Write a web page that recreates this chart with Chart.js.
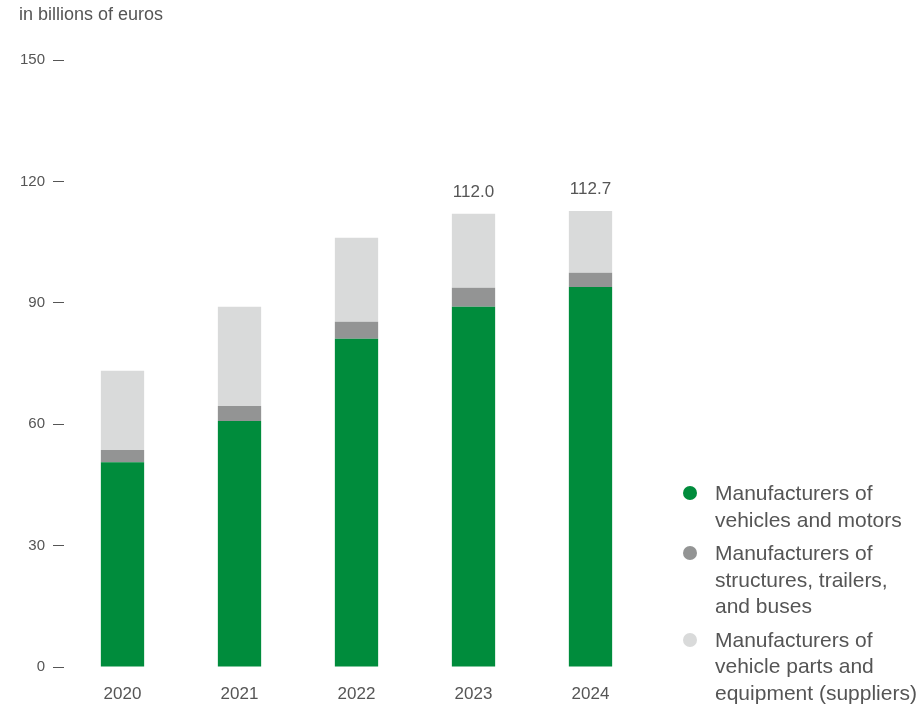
<!DOCTYPE html>
<html>
<head>
<meta charset="utf-8">
<script src="https://cdn.jsdelivr.net/npm/chart.js@4"></script>
<style>
  body { margin: 0; background: #fff; font-family: "Liberation Sans", Arial, sans-serif; color: #555; }
  #wrap { position: relative; width: 923px; height: 708px; }
  #title { position: absolute; left: 19px; top: 4px; font-size: 18px; line-height: 20px; }
  #legend { position: absolute; left: 683px; top: 480px; font-size: 21px; line-height: 26.5px; }
  .item { display: flex; align-items: flex-start; margin-bottom: 7px; }
  .dot { width: 14px; height: 14px; border-radius: 50%; margin-top: 6px; margin-right: 18px; flex: none; }
</style>
</head>
<body>
<div id="wrap">
  <canvas id="myChart" width="923" height="708"></canvas>
  <div id="title">in billions of euros</div>
  <div id="legend"></div>
</div>
<script>
const years = ["2020", "2021", "2022", "2023", "2024"];
const vehicles = [50.6, 60.8, 81.1, 89.0, 93.9];
const structures = [3.0, 3.7, 4.2, 4.7, 3.5];
const suppliers = [19.6, 24.5, 20.8, 18.3, 15.3];
const totalLabels = ["", "", "", "112.0", "112.7"];
const seriesLabels = [
  ["Manufacturers of", "vehicles and motors"],
  ["Manufacturers of", "structures, trailers,", "and buses"],
  ["Manufacturers of", "vehicle parts and", "equipment (suppliers)"]
];
const seriesColors = ["#008c3c", "#939494", "#d9dada"];

const font = "'Liberation Sans', Arial, sans-serif";

const totalsPlugin = {
  id: "totals",
  afterDatasetsDraw(chart) {
    const ctx = chart.ctx;
    const meta = chart.getDatasetMeta(chart.data.datasets.length - 1);
    ctx.save();
    ctx.font = "17px " + font;
    ctx.fillStyle = "#555";
    ctx.textAlign = "center";
    ctx.textBaseline = "alphabetic";
    meta.data.forEach((bar, i) => {
      if (totalLabels[i]) ctx.fillText(totalLabels[i], bar.x, bar.y - 16.5);
    });
    ctx.restore();
  }
};

const datasets = [vehicles, structures, suppliers].map((d, i) => ({
  label: seriesLabels[i].join(" "),
  data: d,
  backgroundColor: seriesColors[i],
  borderWidth: 0,
  categoryPercentage: 1,
  barPercentage: 0.37
}));

new Chart("myChart", {
  type: "bar",
  data: { labels: years, datasets: datasets },
  plugins: [totalsPlugin],
  options: {
    responsive: false,
    animation: false,
    layout: { padding: { top: 60, right: 274, bottom: 0, left: 0 } },
    plugins: { legend: { display: false }, tooltip: { enabled: false } },
    scales: {
      x: {
        stacked: true,
        grid: { display: false, drawTicks: false },
        border: { display: false },
        ticks: { color: "#555", font: { family: font, size: 17 }, padding: 17 },
        afterFit(scale) { scale.height = 41; }
      },
      y: {
        stacked: true,
        min: 0,
        max: 150,
        grid: { drawOnChartArea: false, drawTicks: true, tickLength: 11, tickColor: "#555", tickWidth: 1 },
        border: { display: false },
        ticks: { stepSize: 30, color: "#555", font: { family: font, size: 15 }, padding: 8 },
        afterFit(scale) { scale.width = 64; }
      }
    }
  }
});

const legend = document.getElementById("legend");
seriesLabels.forEach((lines, i) => {
  const item = document.createElement("div");
  item.className = "item";
  item.innerHTML = '<span class="dot" style="background:' + seriesColors[i] + '"></span><span>' + lines.join("<br>") + "</span>";
  legend.appendChild(item);
});
</script>
</body>
</html>
